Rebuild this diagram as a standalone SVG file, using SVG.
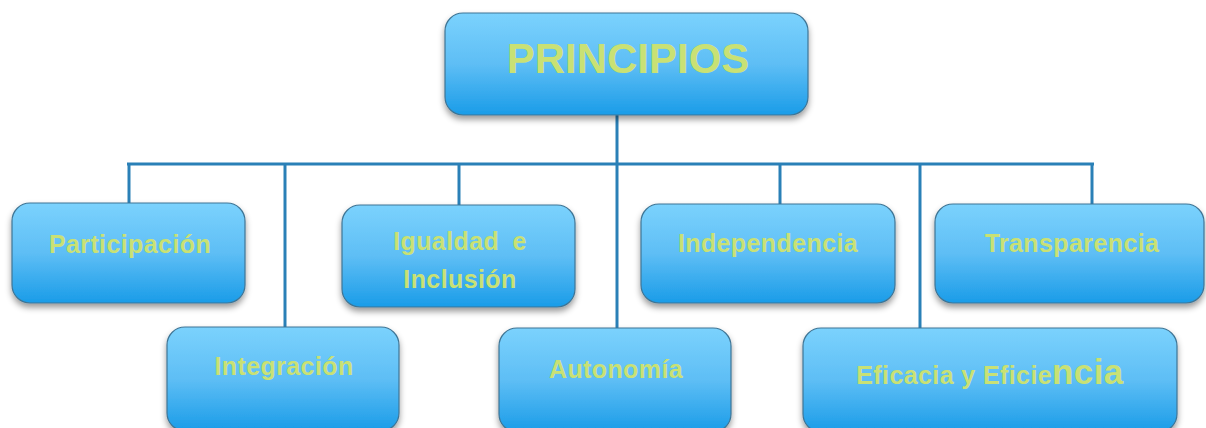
<svg xmlns="http://www.w3.org/2000/svg" width="1206" height="428" viewBox="0 0 1206 428">
<defs>
<linearGradient id="g" x1="0" y1="0" x2="0" y2="1">
<stop offset="0" stop-color="#7bd2fd"/>
<stop offset="0.5" stop-color="#5ebef5"/>
<stop offset="1" stop-color="#1a9ce8"/>
</linearGradient>
<filter id="sh" x="-10%" y="-10%" width="120%" height="130%">
<feDropShadow dx="0" dy="4" stdDeviation="3" flood-color="#000" flood-opacity="0.4"/>
</filter>
<style>
.box{fill:url(#g);stroke:#3f7595;stroke-width:1.2;filter:url(#sh)}
.t{font-family:"Liberation Sans",Arial,sans-serif;font-weight:bold;fill:#c9e174;text-anchor:middle;font-size:25px;letter-spacing:0.4px}
.title{font-size:42px;letter-spacing:0}
.ln{stroke:#2a80b7;stroke-width:3;fill:none}
</style>
</defs>
<g id="connectors">
<line class="ln" x1="617" y1="115" x2="617" y2="329"/>
<line class="ln" x1="127" y1="164" x2="1094" y2="164"/>
<line class="ln" x1="129" y1="164" x2="129" y2="205"/>
<line class="ln" x1="285" y1="164" x2="285" y2="328"/>
<line class="ln" x1="459" y1="164" x2="459" y2="206"/>
<line class="ln" x1="780" y1="164" x2="780" y2="205"/>
<line class="ln" x1="920" y1="164" x2="920" y2="329"/>
<line class="ln" x1="1092" y1="164" x2="1092" y2="205"/>
</g>
<g id="principios">
<rect class="box" x="445" y="13" width="363" height="102" rx="18"/>
<text class="t title" x="628" y="73">PRINCIPIOS</text>
</g>
<g id="participacion">
<rect class="box" x="12" y="203" width="233" height="100" rx="18"/>
<text class="t" x="130" y="253">Participación</text>
</g>
<g id="integracion">
<rect class="box" x="167" y="327" width="232" height="104" rx="18"/>
<text class="t" x="284" y="375">Integración</text>
</g>
<g id="igualdad">
<rect class="box" x="342" y="205" width="233" height="102" rx="18"/>
<text class="t" x="460" y="250" word-spacing="6">Igualdad e</text>
<text class="t" x="460" y="288">Inclusión</text>
</g>
<g id="autonomia">
<rect class="box" x="499" y="328" width="232" height="104" rx="18"/>
<text class="t" x="616" y="378">Autonomía</text>
</g>
<g id="independencia">
<rect class="box" x="641" y="204" width="254" height="99" rx="18"/>
<text class="t" x="768" y="252">Independencia</text>
</g>
<g id="transparencia">
<rect class="box" x="935" y="204" width="269" height="99" rx="18"/>
<text class="t" x="1072" y="252">Transparencia</text>
</g>
<g id="eficacia">
<rect class="box" x="803" y="328" width="374" height="104" rx="18"/>
<text class="t" x="990" y="384" font-size="24px">Eficacia y Eficie<tspan font-size="35px">ncia</tspan></text>
</g>
</svg>
